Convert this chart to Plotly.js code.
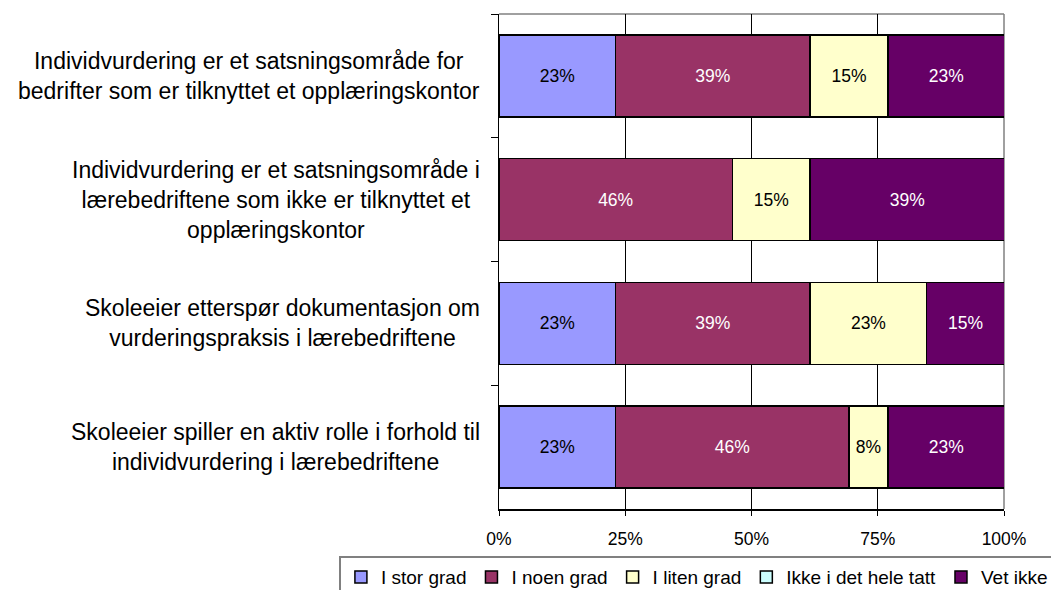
<!DOCTYPE html>
<html>
<head>
<meta charset="utf-8">
<script src="https://cdn.plot.ly/plotly-3.0.1.min.js"></script>
<style>
  html, body { margin: 0; padding: 0; background: #fff; }
  #chart { width: 1051px; height: 590px; }
</style>
</head>
<body>
<div id="chart"></div>
<script>
// categories, top to bottom
var categories = [
  'Individvurdering er et satsningsområde for<br>bedrifter som er tilknyttet et opplæringskontor',
  'Individvurdering er et satsningsområde i<br>lærebedriftene som ikke er tilknyttet et<br>opplæringskontor',
  'Skoleeier etterspør dokumentasjon om<br>vurderingspraksis i lærebedriftene',
  'Skoleeier spiller en aktiv rolle i forhold til<br>individvurdering i lærebedriftene'
];

var seriesNames = ['I stor grad', 'I noen grad', 'I liten grad', 'Ikke i det hele tatt', 'Vet ikke'];

// shares per category
var iStorGrad   = [0.231, 0.000, 0.231, 0.231];
var iNoenGrad   = [0.385, 0.462, 0.385, 0.462];
var iLitenGrad  = [0.154, 0.154, 0.231, 0.077];
var ikkeIDet    = [0.000, 0.000, 0.000, 0.000];
var vetIkke     = [0.231, 0.385, 0.154, 0.231];

var xTicks = [0, 0.25, 0.5, 0.75, 1];
var xTickText = ['0%', '25%', '50%', '75%', '100%'];

var colors = ['#9999FF', '#993366', '#FFFFCC', '#CCFFFF', '#660066'];
var textColors = ['#000', '#fff', '#000', '#000', '#fff'];
var allValues = [iStorGrad, iNoenGrad, iLitenGrad, ikkeIDet, vetIkke];

var FONT = 'Arial, "Liberation Sans", sans-serif';

var data = allValues.map(function (vals, i) {
  return {
    type: 'bar',
    orientation: 'h',
    name: seriesNames[i],
    y: categories,
    x: vals,
    text: vals.map(function (v) { return v > 0 ? Math.round(v * 100) + '%' : ''; }),
    textposition: 'inside',
    insidetextanchor: 'middle',
    textangle: 0,
    constraintext: 'none',
    insidetextfont: { family: FONT, size: 17.5, color: textColors[i] },
    hoverinfo: 'none',
    marker: { color: colors[i], line: { color: '#000', width: 1.5 } }
  };
});

// category labels, centred lines like the original
var annotations = categories.map(function (c) {
  return {
    xref: 'paper', yref: 'y',
    x: -0.033, y: c,
    xanchor: 'right', yanchor: 'middle',
    align: 'center',
    text: c,
    showarrow: false,
    font: { family: FONT, size: 23, color: '#000' }
  };
});

var layout = {
  width: 1051,
  height: 590,
  margin: { l: 499, r: 47, t: 14, b: 81, autoexpand: false },
  paper_bgcolor: '#fff',
  plot_bgcolor: '#fff',
  barmode: 'stack',
  bargap: 0.337,
  showlegend: true,
  font: { family: FONT, color: '#000' },
  xaxis: {
    range: [0, 1],
    tickvals: xTicks,
    ticktext: xTickText,
    tickfont: { family: FONT, size: 17.5, color: '#000' },
    ticks: 'outside',
    ticklen: 5,
    tickcolor: '#000',
    ticklabelstandoff: 8,
    showgrid: true,
    gridcolor: '#000',
    gridwidth: 1,
    zeroline: false,
    showline: true,
    linecolor: '#000',
    linewidth: 1.5,
    fixedrange: true
  },
  yaxis: {
    type: 'category',
    autorange: 'reversed',
    showticklabels: false,
    ticks: 'outside',
    tickson: 'boundaries',
    ticklen: 7,
    tickcolor: '#000',
    showgrid: false,
    zeroline: false,
    showline: true,
    linecolor: '#000',
    linewidth: 1.5,
    fixedrange: true
  },
  shapes: [
    { type: 'line', xref: 'paper', yref: 'paper', x0: 0, x1: 1, y0: 1, y1: 1,
      line: { color: '#808080', width: 1.5 }, layer: 'below' },
    { type: 'line', xref: 'paper', yref: 'paper', x0: 1, x1: 1, y0: 0, y1: 1,
      line: { color: '#808080', width: 1.5 }, layer: 'below' }
  ],
  annotations: annotations,
  legend: {
    orientation: 'h',
    x: -0.317,
    xanchor: 'left',
    y: -0.095,
    yanchor: 'top',
    traceorder: 'normal',
    itemwidth: 30,
    bordercolor: '#808080',
    borderwidth: 2,
    bgcolor: '#fff',
    font: { family: FONT, size: 19, color: '#000' }
  }
};

Plotly.newPlot('chart', data, layout, { displayModeBar: false, staticPlot: true });
</script>
</body>
</html>
